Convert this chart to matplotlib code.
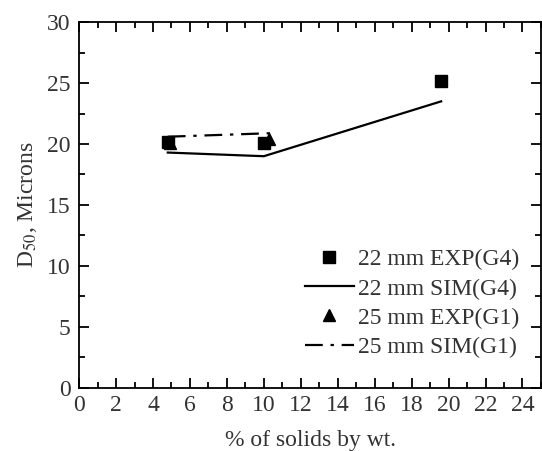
import matplotlib
matplotlib.use('Agg')
import matplotlib.pyplot as plt
from matplotlib.ticker import MultipleLocator

plt.rcParams['font.family'] = ['Liberation Serif', 'DejaVu Serif']
plt.rcParams['mathtext.fontset'] = 'stix'

# data
x_exp_g4 = [4.8, 10.0, 19.6]
y_exp_g4 = [20.2, 20.1, 25.2]
x_sim_g4 = [4.8, 10.0, 19.6]
y_sim_g4 = [19.3, 19.0, 23.5]
x_exp_g1 = [4.9, 10.3]
y_exp_g1 = [20.1, 20.4]
x_sim_g1 = [4.8, 10.6]
y_sim_g1 = [20.6, 20.9]

fig = plt.figure(figsize=(5.42, 4.51), dpi=100)
ax = fig.add_axes([0.146, 0.140, 0.852, 0.811])

ax.plot(x_exp_g4, y_exp_g4, 's', color='black', markersize=9, label='22 mm EXP(G4)')
ax.plot(x_sim_g4, y_sim_g4, '-', color='black', lw=1.6, label='22 mm SIM(G4)')
ax.plot(x_exp_g1, y_exp_g1, '^', color='black', markersize=9, label='25 mm EXP(G1)')
ax.plot(x_sim_g1, y_sim_g1, '-.', color='black', lw=1.6, dashes=(8, 3.5, 1.5, 3.5), label='25 mm SIM(G1)')

ax.set_xlim(0, 25)
ax.set_ylim(0, 30)
ax.xaxis.set_major_locator(MultipleLocator(2))
ax.xaxis.set_minor_locator(MultipleLocator(1))
ax.yaxis.set_major_locator(MultipleLocator(5))
ax.yaxis.set_minor_locator(MultipleLocator(2.5))
ax.tick_params(which='both', direction='in', top=True, right=True, width=1.3,
               labelsize=17, labelcolor='#333333')
ax.tick_params(axis='y', pad=6)
ax.tick_params(axis='x', pad=5)
ax.tick_params(which='major', length=7)
ax.tick_params(which='minor', length=4)
for s in ax.spines.values():
    s.set_linewidth(1.3)

ax.set_xlabel('% of solids by wt.', fontsize=17, color='#333333', labelpad=10)
ax.set_ylabel('D$_{50}$, Microns', fontsize=17, color='#333333', labelpad=6)

leg = ax.legend(loc='lower right', bbox_to_anchor=(0.978, 0.05), frameon=False,
                fontsize=17, handlelength=2.1, handletextpad=0.15, labelspacing=0.32,
                borderpad=0)
for t in leg.get_texts():
    t.set_color('#333333')

fig.savefig('out.png', dpi=100)
